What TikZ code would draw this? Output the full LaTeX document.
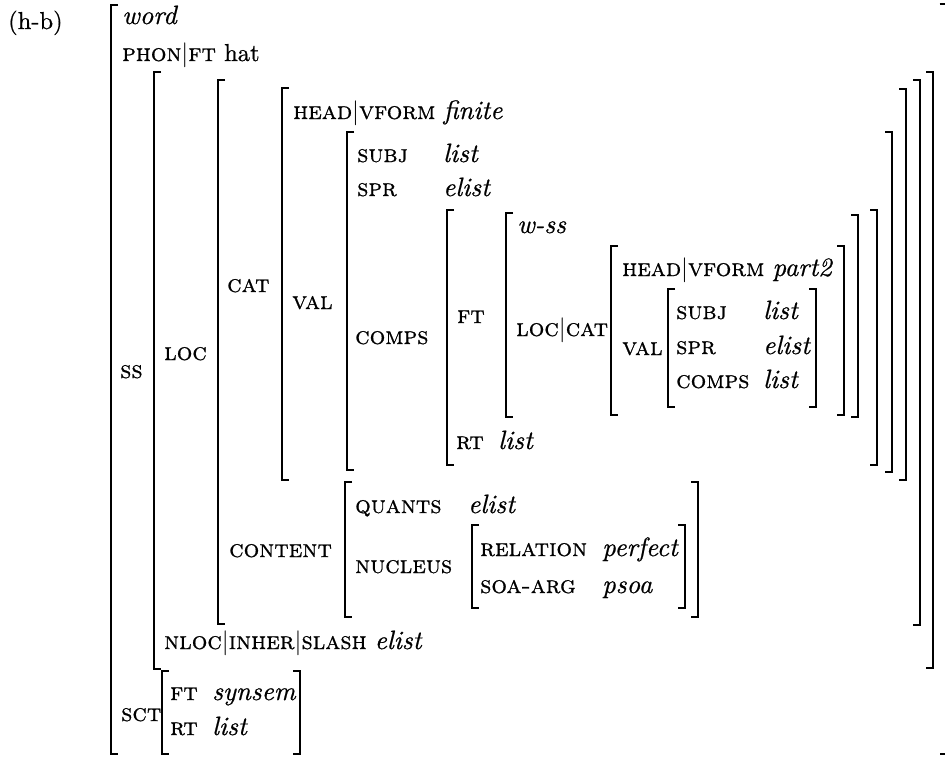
\documentclass[tikz,border=0pt]{standalone}
\usepackage{fontspec}
\setmainfont{lmroman10-regular.otf}[
  ItalicFont=lmroman10-italic.otf,
  SmallCapsFont=lmromancaps10-regular.otf,
  FakeBold=0.7]
\usetikzlibrary{positioning}
\tikzset{
  avm/.style={anchor=west,inner sep=0pt,text height=17pt,text depth=5pt,
    font=\fontsize{24.5}{28}\selectfont},
  brk/.style={line width=1.8pt,line join=miter}
}
\newcommand{\att}[1]{\textsc{#1}}
\newcommand{\val}[1]{{\fontsize{26.5}{28}\selectfont\itshape #1}}
\newcommand{\pipe}{$|$}

\begin{document}
\begin{tikzpicture}[x=1pt,y=-1pt]
\useasboundingbox (0,0) rectangle (945,756);
% brackets: x/top/bottom
\foreach \x/\t/\b in {111/5/754,154/72/669,218/80/624,282/88/480,347/132/470,
    447/210/465,506/213/417,611/246/415,668/289/407,345/482/617,472/525/608,162/671/754}
  \draw[brk] ({\x+7},\t) -- (\x,\t) -- (\x,\b) -- ({\x+7},\b);
\foreach \x/\t/\b in {946.5/4/754,933/72/668,920/80/625,906/89/480,892/132/472,
    877/210/465,858/215/417,844/246/415,816/289/407,698/482/617,685/525/608,300/671/754}
  \draw[brk] ({\x-7},\t) -- (\x,\t) -- (\x,\b) -- ({\x-7},\b);

\node[avm] (hb) at (8,23) {(h-b)};
\node[avm] (word) at (122,18) {\val{word}};
\node[avm] (phon) at (122,55) {\att{phon}\pipe\att{ft} hat};
\node[avm] (ss) at (120,372) {\att{ss}};
\node[avm] (loc) at (164,354) {\att{loc}};
\node[avm] (cat) at (227,286) {\att{cat}};
\node[avm] (head) at (293,113) {\att{head}\pipe\att{vform} \val{finite}};
\node[avm] (val) at (292,303) {\att{val}};
\node[avm] (subj) at (357,156) {\att{subj}};
\node[avm] (subjv) at (443,156) {\val{list}};
\node[avm] (spr) at (357,190) {\att{spr}};
\node[avm] (sprv) at (443,190) {\val{elist}};
\node[avm] (comps) at (355,338) {\att{comps}};
\node[avm] (ft) at (457,317) {\att{ft}};
\node[avm] (wss) at (517,227) {\val{w-ss}};
\node[avm] (loccat) at (516,330) {\att{loc}\pipe\att{cat}};
\node[avm] (head2) at (622,270) {\att{head}\pipe\att{vform} \val{part2}};
\node[avm] (val2) at (622,349) {\att{val}};
\node[avm] (subj2) at (676,313) {\att{subj}};
\node[avm] (subj2v) at (763,313) {\val{list}};
\node[avm] (spr2) at (676,348) {\att{spr}};
\node[avm] (spr2v) at (763,348) {\val{elist}};
\node[avm] (comps2) at (676,382) {\att{comps}};
\node[avm] (comps2v) at (763,382) {\val{list}};
\node[avm] (rt) at (456,443) {\att{rt}};
\node[avm] (rtv) at (498,443) {\val{list}};
\node[avm] (cont) at (229,551) {\att{content}};
\node[avm] (quants) at (355,507) {\att{quants}};
\node[avm] (quantsv) at (468,507) {\val{elist}};
\node[avm] (nucl) at (355,567) {\att{nucleus}};
\node[avm] (rel) at (480,550) {\att{relation}};
\node[avm] (relv) at (602,550) {\val{perfect}};
\node[avm] (soa) at (480,587) {\att{soa-arg}};
\node[avm] (soav) at (602,587) {\val{psoa}};
\node[avm] (nloc) at (164,643) {\att{nloc}\pipe\att{inher}\pipe\att{slash} \val{elist}};
\node[avm] (sct) at (121,715) {\att{sct}};
\node[avm] (sctft) at (170,694) {\att{ft}};
\node[avm] (sctftv) at (212,694) {\val{synsem}};
\node[avm] (sctrt) at (170,729) {\att{rt}};
\node[avm] (sctrtv) at (212,729) {\val{list}};
\end{tikzpicture}
\end{document}
